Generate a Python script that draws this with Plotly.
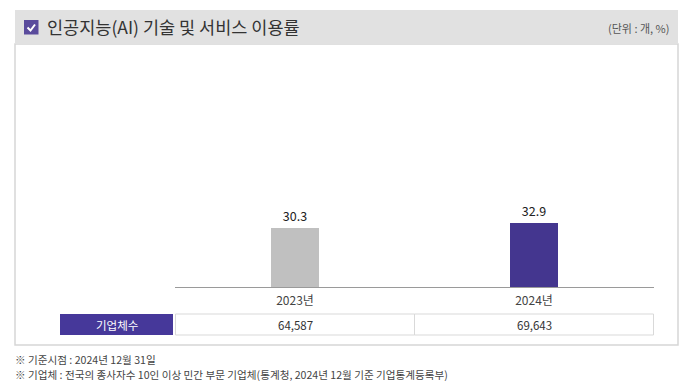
import plotly.graph_objects as go

# ---- data ----
years = ["2023년", "2024년"]
usage_rate = [30.3, 32.9]
company_counts = [64587, 69643]
bar_colors = ["#c0c0c0", "#44368f"]
title_text = "인공지능(AI) 기술 및 서비스 이용률"
unit_text = "(단위 : 개, %)"
row_header = "기업체수"
footnotes = [
    "※ 기준시점 : 2024년 12월 31일",
    "※ 기업체 : 전국의 종사자수 10인 이상 민간 부문 기업체(통계청, 2024년 12월 기준 기업통계등록부)",
]

W, H = 700, 388
FONT = "Noto Sans CJK KR"


def px(x):
    return x / W


def py(y):
    return 1 - y / H


fig = go.Figure()
fig.add_trace(go.Bar(
    x=years, y=usage_rate,
    marker=dict(color=bar_colors, line=dict(width=0)),
    width=0.2,
    text=[f"{v:.1f}" for v in usage_rate],
    textposition="outside",
    textfont=dict(family=FONT, size=12.5, color="#222222"),
    cliponaxis=False,
    hoverinfo="skip",
))

shapes = []
annotations = []

# outer box
shapes.append(dict(type="rect", xref="paper", yref="paper",
                   x0=px(15), x1=px(678), y0=py(345), y1=py(44),
                   line=dict(color="#d6d6d6", width=1.5), fillcolor="white", layer="below"))
# header band
shapes.append(dict(type="rect", xref="paper", yref="paper",
                   x0=px(15), x1=px(678), y0=py(44), y1=py(10),
                   line=dict(width=0), fillcolor="#e1e1e1", layer="below"))
# checkbox
shapes.append(dict(type="rect", xref="paper", yref="paper",
                   x0=px(24), x1=px(38.5), y0=py(34.5), y1=py(20),
                   line=dict(width=0), fillcolor="#5a4b9c", layer="above"))
shapes.append(dict(type="path", xref="paper", yref="paper",
                   path=f"M {px(27.5)} {py(27.5)} L {px(30.5)} {py(30.5)} L {px(35)} {py(24.5)}",
                   line=dict(color="white", width=2), layer="above"))

annotations.append(dict(xref="paper", yref="paper", x=px(45), y=py(27),
                        xanchor="left", yanchor="middle", showarrow=False,
                        text=title_text, font=dict(family=FONT, size=17.5, color="#333333")))
annotations.append(dict(xref="paper", yref="paper", x=px(671), y=py(28),
                        xanchor="right", yanchor="middle", showarrow=False,
                        text=unit_text, font=dict(family=FONT, size=11, color="#555555")))

# table row
shapes.append(dict(type="rect", xref="paper", yref="paper",
                   x0=px(60), x1=px(173), y0=py(335), y1=py(314),
                   line=dict(width=0), fillcolor="#46389a"))
annotations.append(dict(xref="paper", yref="paper", x=px(116.5), y=py(324.5),
                        xanchor="center", yanchor="middle", showarrow=False,
                        text=row_header, font=dict(family=FONT, size=11.5, color="white")))
for i, v in enumerate(company_counts):
    shapes.append(dict(type="rect", xref="x", yref="paper",
                       x0=i - 0.5, x1=i + 0.5, y0=py(335), y1=py(314),
                       line=dict(color="#d9d9d9", width=1), fillcolor="white"))
    annotations.append(dict(xref="x", yref="paper", x=i, y=py(324.5),
                            xanchor="center", yanchor="middle", showarrow=False,
                            text=f"{v:,}", font=dict(family=FONT, size=11.5, color="#333333")))

# footnotes
for t, yy in zip(footnotes, [359, 374.5]):
    annotations.append(dict(xref="paper", yref="paper", x=px(14), y=py(yy),
                            xanchor="left", yanchor="middle", align="left", showarrow=False,
                            borderpad=0,
                            text=t, font=dict(family=FONT, size=10.6, color="#444444")))

fig.update_layout(
    width=W, height=H,
    margin=dict(l=0, r=0, t=0, b=0),
    paper_bgcolor="white", plot_bgcolor="rgba(0,0,0,0)",
    showlegend=False,
    shapes=shapes, annotations=annotations,
    xaxis=dict(domain=[px(175), px(654)], showline=True, linecolor="#9a9a9a", linewidth=1,
               showgrid=False, zeroline=False, ticks="", ticklabelstandoff=3,
               tickfont=dict(family=FONT, size=12, color="#444444"), fixedrange=True),
    yaxis=dict(domain=[py(287), py(50)], range=[0, 122.4], visible=False,
               showgrid=False, zeroline=False, fixedrange=True),
    bargap=0,
)

fig.write_html("out.html", config={"displayModeBar": False},
               post_script="document.body.style.margin='0';document.body.style.padding='0';")
